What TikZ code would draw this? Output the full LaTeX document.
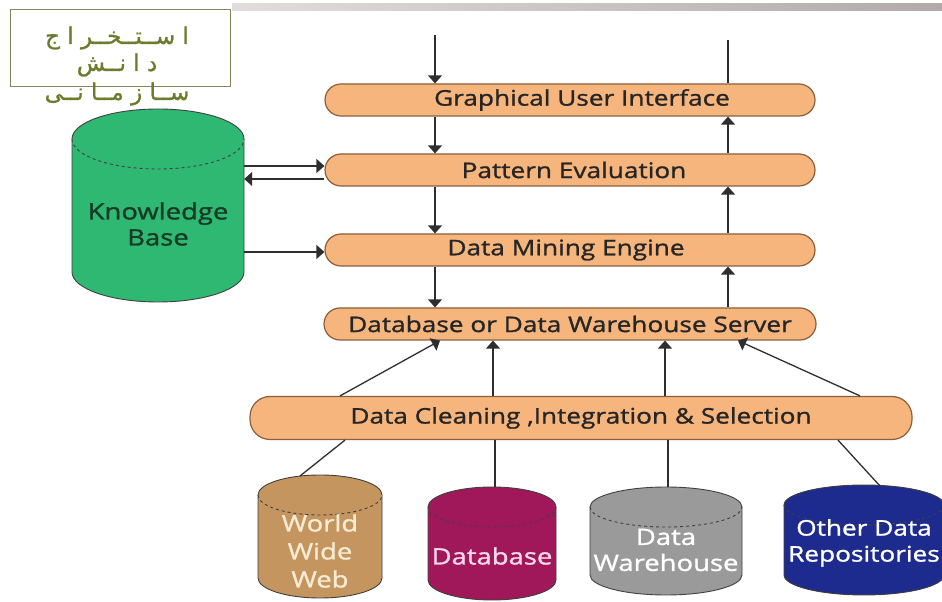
\documentclass[tikz,border=0pt]{standalone}
\usepackage{fontspec}
\setmainfont{Open Sans}[FakeBold=1.2,FakeStretch=1.22]
\newfontfamily\arabicfont[Script=Arabic,FakeBold=1]{DejaVu Sans}
\TeXXeTstate=1
\usetikzlibrary{arrows.meta}
\definecolor{barfill}{HTML}{F6B57C}
\definecolor{barborder}{HTML}{8B5E3C}
\definecolor{txt}{HTML}{262626}
\definecolor{arrowc}{HTML}{2E2E2E}
\definecolor{kbgreen}{HTML}{2EB872}
\definecolor{kbtext}{HTML}{163A25}
\definecolor{wwwc}{HTML}{C4955E}
\definecolor{wwwt}{HTML}{F7EBD3}
\definecolor{dbc}{HTML}{A0185A}
\definecolor{dbt}{HTML}{F9D9EA}
\definecolor{dwc}{HTML}{9A9A9A}
\definecolor{odc}{HTML}{1E2B8E}
\definecolor{olive}{HTML}{6B7D2C}
\definecolor{boxb}{HTML}{85855C}
\definecolor{band}{HTML}{B2AAAA}
\newcommand\mycyl[6]{%
  \fill[#6] (#1-#4,#3) -- (#1-#4,#2) -- (#1+#4,#2) -- (#1+#4,#3)
     arc[start angle=0,end angle=-180,x radius=#4,y radius=#5] -- cycle;
  \draw[cylline] (#1-#4,#2) -- (#1-#4,#3)
     arc[start angle=180,end angle=360,x radius=#4,y radius=#5] -- (#1+#4,#2);
  \fill[#6] (#1,#2) ellipse[x radius=#4,y radius=#5];
  \draw[cylline] (#1+#4,#2) arc[start angle=0,end angle=180,x radius=#4,y radius=#5];
  \draw[cylline,dashed] (#1-#4,#2) arc[start angle=180,end angle=360,x radius=#4,y radius=#5];
}
\begin{document}
\begin{tikzpicture}[x=1pt,y=1pt,
  cylline/.style={draw=black!75,line width=0.9pt},
  bar/.style={draw=barborder,fill=barfill,rounded corners=16pt,minimum height=32pt,
    line width=1.2pt,font=\fontsize{21.5}{24}\selectfont,text=txt,inner sep=0pt},
  arr/.style={-{Triangle[width=14pt,length=8pt]},line width=1.3pt,draw=arrowc},
  plain/.style={line width=1.3pt,draw=arrowc},
  artext/.style={text=olive,font=\arabicfont\fontsize{23}{25}\selectfont,inner sep=0pt},
  cyltext/.style={font=\fontsize{22.5}{26}\selectfont,align=center,inner sep=0pt}]
\useasboundingbox (0,0) rectangle (942,602);
\fill[left color=band!40,right color=band] (232,591) rectangle (942,598);
% title box
\node[draw=boxb,line width=1pt,fill=white,minimum width=220pt,minimum height=77pt,inner sep=0pt] (tbox) at (120,553.5) {};
\node[artext] (t1) at (117,564) {\beginR ا ســتــخــر ا ج\endR};
\node[artext] (t2) at (117,537) {\beginR د ا نــش\endR};
\node[artext] (t3) at (117,508) {\beginR ســا ز مــا نــی\endR};
% knowledge base
\mycyl{158}{463}{330}{86}{30}{kbgreen}
\node[minimum width=172pt,minimum height=133pt,inner sep=0pt] (kb) at (158,396.5) {};
\node[cyltext,text=kbtext] (kbt) at (158,378) {Knowledge\\Base};
% bars
\node[bar,minimum width=490pt] (gui) at (570,502) {\hspace*{24pt}Graphical User Interface};
\node[bar,minimum width=490pt] (pe) at (570,432) {\hspace*{8pt}Pattern Evaluation};
\node[bar,minimum width=490pt] (dme) at (570,352) {Data Mining Engine\hspace*{8pt}};
\node[bar,minimum width=492pt] (srv) at (570,278) {Database or Data Warehouse Server};
\node[bar,minimum width=662pt,minimum height=43pt,rounded corners=20pt] (clean) at (581,184) {Data Cleaning ,Integration \& Selection};
% column coordinates
\coordinate (L) at (435,0);
\coordinate (R) at (728,0);
\coordinate (topin) at (435,567);
\coordinate (topout) at (728,562);
\draw[arr] (topin) -- (gui.north -| L);
\draw[arr] (gui.south -| L) -- (pe.north -| L);
\draw[arr] (pe.south -| L) -- (dme.north -| L);
\draw[arr] (dme.south -| L) -- (srv.north -| L);
\draw[arr] (srv.north -| R) -- (dme.south -| R);
\draw[arr] (dme.north -| R) -- (pe.south -| R);
\draw[arr] (pe.north -| R) -- (gui.south -| R);
\draw[plain] (gui.north -| R) -- (topout);
% knowledge base links
\draw[arr] ([yshift=4pt]pe.west -| kb.east) -- ([yshift=4pt]pe.west);
\draw[arr] ([yshift=-9pt]pe.west) -- ([yshift=-9pt]pe.west -| kb.east);
\draw[arr] ([yshift=-2pt]dme.west -| kb.east) -- ([yshift=-2pt]dme.west);
% into server
\coordinate (a1) at (340,0); \coordinate (b1) at (440,0);
\coordinate (a2) at (493,0);
\coordinate (a3) at (665,0);
\coordinate (a4) at (860,0); \coordinate (b4) at (738,0);
\draw[arr] (clean.north -| a1) -- (srv.south -| b1);
\draw[arr] (clean.north -| a2) -- (srv.south -| a2);
\draw[arr] (clean.north -| a3) -- (srv.south -| a3);
\draw[arr] (clean.north -| a4) -- (srv.south -| b4);
% sources
\mycyl{320}{107}{24}{62}{20}{wwwc}
\mycyl{492}{95}{22}{64}{20}{dbc}
\mycyl{666}{95}{27}{76}{20}{dwc}
\mycyl{864}{97}{27}{80}{20}{odc}
\node[cyltext,text=wwwt,font=\fontsize{22.5}{28}\selectfont] (www) at (320,51) {World\\Wide\\Web};
\node[cyltext,text=dbt] (db) at (492,46) {Database};
\node[cyltext,text=white] (dw) at (666,52) {Data\\Warehouse};
\node[cyltext,text=white,font=\fontsize{21.5}{26}\selectfont] (od) at (864,59) {Other Data\\Repositories};
\coordinate (c1) at (345,0); \coordinate (wwwtop) at (300,126);
\coordinate (c2) at (495,0); \coordinate (dbtop) at (495,115);
\coordinate (c3) at (668,0); \coordinate (dwtop) at (668,115);
\coordinate (c4) at (838,0); \coordinate (odtop) at (880,116);
\draw[plain] (clean.south -| c1) -- (wwwtop);
\draw[plain] (clean.south -| c2) -- (dbtop);
\draw[plain] (clean.south -| c3) -- (dwtop);
\draw[plain] (clean.south -| c4) -- (odtop);
\end{tikzpicture}
\end{document}
